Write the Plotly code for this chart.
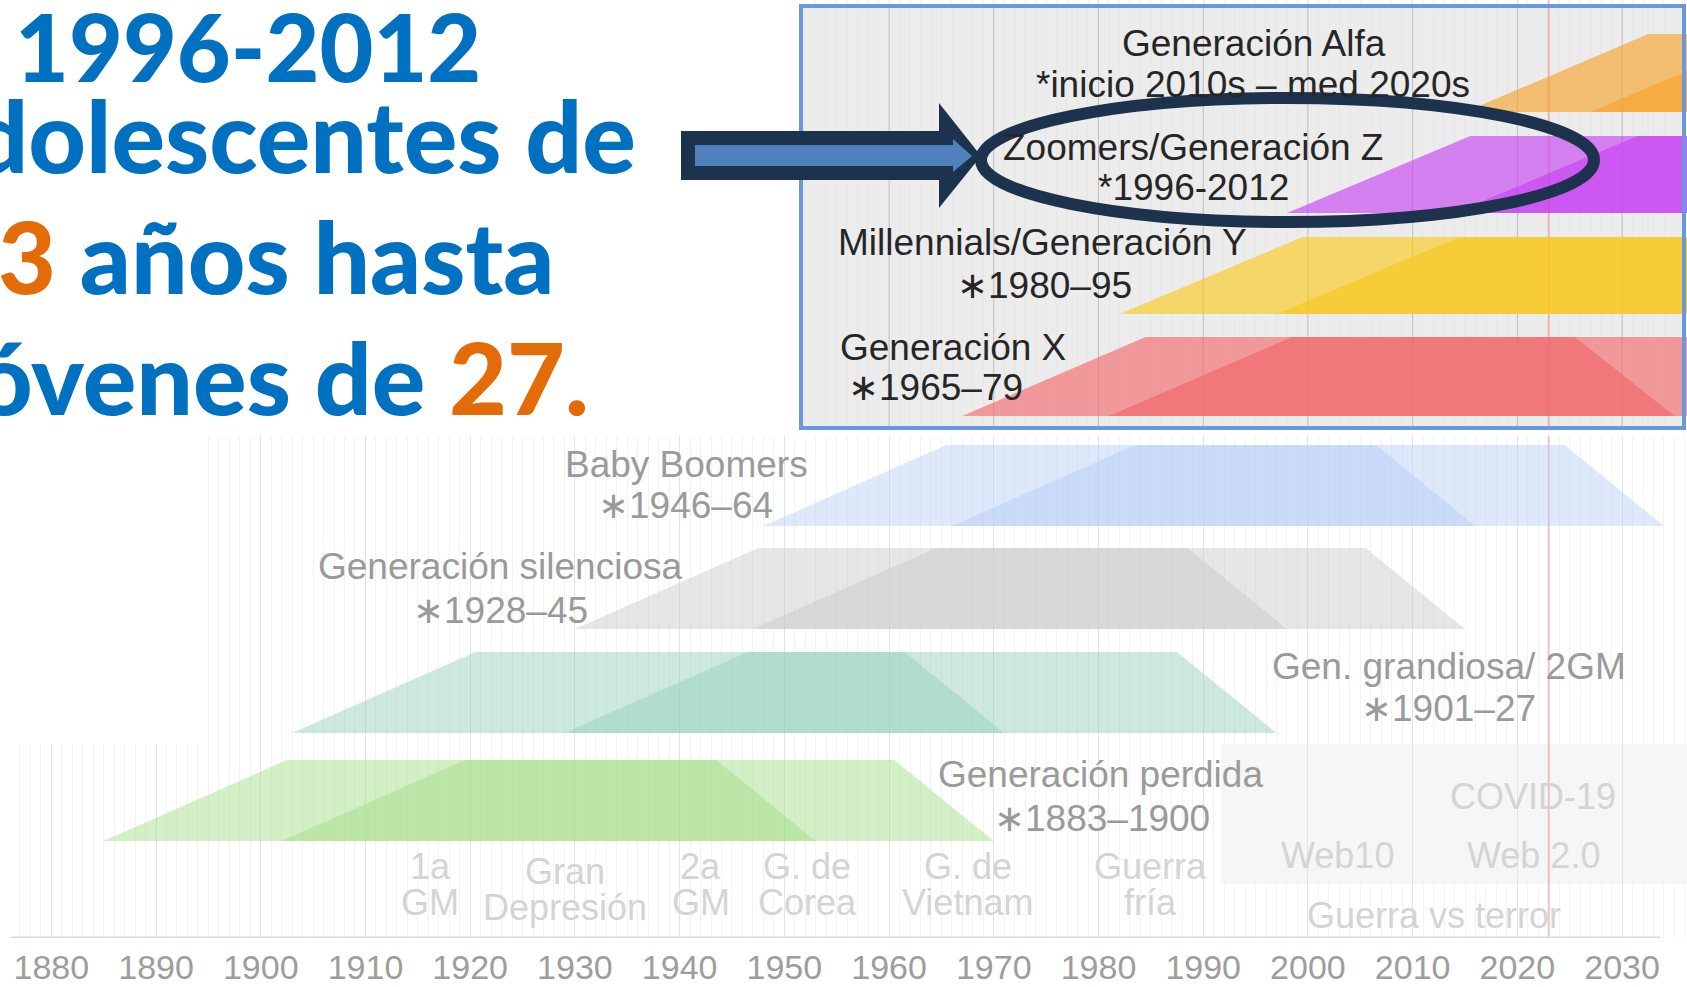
import plotly.graph_objects as go

# ---------------- data ----------------
GEN_NAMES = ["Generación Alfa", "Zoomers/Generación Z", "Millennials/Generación Y",
             "Generación X", "Baby Boomers", "Generación silenciosa",
             "Gen. grandiosa/ 2GM", "Generación perdida"]
GEN_SUBTITLES = ["*inicio 2010s – med 2020s", "*1996-2012", "∗1980–95", "∗1965–79",
                 "∗1946–64", "∗1928–45", "∗1901–27", "∗1883–1900"]
BIRTH_START = [2013, 1996, 1980, 1965, 1946, 1928, 1901, 1883]
BIRTH_END = [2025, 2012, 1995, 1979, 1964, 1945, 1927, 1900]
LIFE_STAGE_AGES = [2, 19.5, 60.5, 70]   # bottom-left, top-left, top-right, bottom-right of each cohort shape

EVENT_LINE1 = ["1a", "Gran", "2a", "G. de", "G. de", "Guerra", "Web10", "Web 2.0", "COVID-19", "Guerra vs terror"]
EVENT_LINE2 = ["GM", "Depresión", "GM", "Corea", "Vietnam", "fría", "", "", "", ""]
EVENT_YEAR = [1916.2, 1929.1, 1942.0, 1952.2, 1967.5, 1985.0, 2002.8, 2021.5, 2021.5, 2012.0]

TICK_YEARS = [1880, 1890, 1900, 1910, 1920, 1930, 1940, 1950, 1960, 1970,
              1980, 1990, 2000, 2010, 2020, 2030]
NOW_YEAR = 2023

HEADLINE_1 = "1996-2012"
HEADLINE_2 = "Adolescentes de"
HEADLINE_3_NUM = "3"
HEADLINE_3_TXT = " años hasta"
HEADLINE_4_TXT = "jóvenes de "
HEADLINE_4_NUM = "27."

# ---------------- layout / style ----------------
W, H = 1687, 987
PLOT_H = 938
X_RANGE = [1875.1, 2036.2]


def px2x(px):
    return X_RANGE[0] + px * (X_RANGE[1] - X_RANGE[0]) / W


BAND_TOP = [34, 136, 237, 337, 445, 548, 652, 760]
BAND_BOTTOM = [112, 213, 314, 416, 526, 629, 733, 841]
GEN_COLORS = ["247,160,38", "198,62,242", "248,200,24", "242,100,104",
              "179,204,246", "199,199,199", "144,206,184", "157,219,128"]
GEN_ALPHA = [0.62, 0.62, 0.62, 0.62, 0.45, 0.45, 0.45, 0.45]

# label positions: (x px, y px, anchor)
TITLE_POS = [(1254, 43, "center"), (1193, 147, "center"), (1042, 242, "center"), (838, 347, "left"),
             (686, 464, "center"), (500, 566, "center"), (1449, 666, "center"), (1100, 774, "center")]
SUB_POS = [(1253, 84, "center"), (1193, 187, "center"), (1044, 285, "center"), (846, 387, "left"),
           (685, 505, "center"), (500, 610, "center"), (1448, 708, "center"), (1102, 818, "center")]
EVENT_Y1 = [866, 871, 866, 866, 866, 866, 855, 855, 796, 915]
EVENT_Y2 = [902, 907, 902, 902, 902, 902, 0, 0, 0, 0]

LAB_FONT = "Liberation Sans, Arial, sans-serif"
BIG_FONT = "Lato, Open Sans, sans-serif"
BLUE = "#0070c0"
ORANGE = "#e36c09"
NAVY = "#1d324d"

fig = go.Figure()

# cohort trapezoids (two overlapping translucent shapes per generation)
for i in range(len(GEN_NAMES)):
    fill = f"rgba({GEN_COLORS[i]},{GEN_ALPHA[i]})"
    for b in (BIRTH_START[i], BIRTH_END[i]):
        xs = [b + a for a in LIFE_STAGE_AGES] + [b + LIFE_STAGE_AGES[0]]
        ys = [BAND_BOTTOM[i], BAND_TOP[i], BAND_TOP[i], BAND_BOTTOM[i], BAND_BOTTOM[i]]
        fig.add_trace(go.Scatter(x=xs, y=ys, mode="lines", fill="toself", fillcolor=fill,
                                 line=dict(width=0), hoverinfo="skip", showlegend=False))

shapes = []
# highlighted box background
shapes.append(dict(type="rect", xref="x", yref="y", x0=px2x(801), x1=px2x(1684), y0=6, y1=428,
                   fillcolor="#ececec", line=dict(width=0), layer="below"))
# grey block behind web labels
shapes.append(dict(type="rect", xref="x", yref="y", x0=px2x(1221), x1=px2x(1687), y0=744, y1=884,
                   fillcolor="#f6f6f6", line=dict(width=0), layer="below"))
# denser year lines inside highlighted box
for yr in range(1952, 2037):
    col = "rgba(0,0,0,0.16)" if yr % 10 == 0 else "rgba(0,0,0,0.055)"
    shapes.append(dict(type="line", xref="x", yref="y", x0=yr, x1=yr, y0=8, y1=426,
                       line=dict(color=col, width=1), layer="between"))
# "now" line
shapes.append(dict(type="line", xref="x", yref="y", x0=NOW_YEAR, x1=NOW_YEAR, y0=0, y1=PLOT_H,
                   line=dict(color="rgba(235,90,90,0.35)", width=2), layer="between"))
# white covers (areas without the chart background)
for (a, b, c, d) in [(0, 0, 800, 436), (800, 429, 1687, 436), (0, 436, 199, 744), (0, 744, 11, 938)]:
    shapes.append(dict(type="rect", xref="x", yref="y", x0=px2x(a), x1=px2x(c), y0=b, y1=d,
                       fillcolor="white", line=dict(width=0), layer="above"))
# axis base line
shapes.append(dict(type="line", xref="x", yref="y", x0=px2x(11), x1=px2x(1660), y0=938, y1=938,
                   line=dict(color="#d9d9d9", width=3), layer="above"))
# highlight box border
shapes.append(dict(type="rect", xref="x", yref="y", x0=px2x(801), x1=px2x(1684), y0=6, y1=428,
                   line=dict(color="#6a98dc", width=4), layer="above"))


def path(points):
    return "M " + " L ".join(f"{px2x(p[0]):.4f},{p[1]}" for p in points) + " Z"


arrow_outer = [(681, 131), (939, 131), (939, 103), (981, 156), (939, 208), (939, 180), (681, 180)]
arrow_inner = [(695, 145), (953, 145), (953, 139), (972, 156), (953, 172), (953, 166), (695, 166)]
shapes.append(dict(type="path", xref="x", yref="y", path=path(arrow_outer), fillcolor=NAVY,
                   line=dict(width=0), layer="above"))
shapes.append(dict(type="path", xref="x", yref="y", path=path(arrow_inner), fillcolor="#4f81bd",
                   line=dict(width=0), layer="above"))
# ellipse highlight
shapes.append(dict(type="circle", xref="x", yref="y", x0=px2x(981), x1=px2x(1594), y0=98, y1=222,
                   line=dict(color=NAVY, width=12), fillcolor="rgba(0,0,0,0)", layer="above"))

annotations = []
for i in range(len(GEN_NAMES)):
    col = "#262626" if i < 4 else "#9a9a9a"
    tx, ty, ta = TITLE_POS[i]
    sx, sy, sa = SUB_POS[i]
    annotations.append(dict(x=px2x(tx), y=ty, xref="x", yref="y", text=GEN_NAMES[i], showarrow=False,
                            xanchor=ta, yanchor="middle", font=dict(family=LAB_FONT, size=37, color=col)))
    annotations.append(dict(x=px2x(sx), y=sy, xref="x", yref="y", text=GEN_SUBTITLES[i], showarrow=False,
                            xanchor=sa, yanchor="middle", font=dict(family=LAB_FONT, size=37, color=col)))

for k in range(len(EVENT_LINE1)):
    annotations.append(dict(x=EVENT_YEAR[k], y=EVENT_Y1[k], xref="x", yref="y", text=EVENT_LINE1[k],
                            showarrow=False, xanchor="center", yanchor="middle",
                            font=dict(family=LAB_FONT, size=36, color="#d4d4d4")))
    if EVENT_LINE2[k]:
        annotations.append(dict(x=EVENT_YEAR[k], y=EVENT_Y2[k], xref="x", yref="y", text=EVENT_LINE2[k],
                                showarrow=False, xanchor="center", yanchor="middle",
                                font=dict(family=LAB_FONT, size=36, color="#d4d4d4")))

big1 = dict(family=BIG_FONT, size=93, color=BLUE, weight=900)
big = dict(family=BIG_FONT, size=100, color=BLUE, weight=900)
annotations += [
    dict(x=14 / W, y=46, xref="paper", yref="y", text=HEADLINE_1, showarrow=False,
         xanchor="left", yanchor="middle", font=big1, borderpad=0),
    dict(x=637 / W, y=134, xref="paper", yref="y", text=HEADLINE_2, showarrow=False,
         xanchor="right", yanchor="middle", font=big, borderpad=0),
    dict(x=-3 / W, y=255, xref="paper", yref="y",
         text=f"<span style='color:{ORANGE}'>{HEADLINE_3_NUM}</span>{HEADLINE_3_TXT}", showarrow=False,
         xanchor="left", yanchor="middle", font=big, borderpad=0),
    dict(x=590 / W, y=376, xref="paper", yref="y",
         text=f"{HEADLINE_4_TXT}<span style='color:{ORANGE}'>{HEADLINE_4_NUM}</span>", showarrow=False,
         xanchor="right", yanchor="middle", font=big, borderpad=0),
]

fig.update_layout(
    width=W, height=H,
    margin=dict(l=0, r=0, t=0, b=H - PLOT_H, pad=0, autoexpand=False),
    paper_bgcolor="white", plot_bgcolor="white",
    showlegend=False,
    shapes=shapes, annotations=annotations,
    xaxis=dict(range=X_RANGE, tickmode="array", tickvals=TICK_YEARS, ticktext=[str(t) for t in TICK_YEARS],
               showgrid=True, gridcolor="#e4e4e4", gridwidth=1, zeroline=False, showline=False,
               ticks="", ticklabelstandoff=6, automargin=False,
               tickfont=dict(family=LAB_FONT, size=34, color="#9d9d9d"),
               minor=dict(tickmode="linear", tick0=1875, dtick=1, showgrid=True,
                          gridcolor="#f3f3f3", gridwidth=1),
               fixedrange=True),
    yaxis=dict(range=[PLOT_H, 0], visible=False, showgrid=False, zeroline=False, fixedrange=True,
               automargin=False),
)

fig.write_html("out.html", config={"displayModeBar": False},
               post_script="document.body.style.margin='0px';document.body.style.overflow='hidden';")
